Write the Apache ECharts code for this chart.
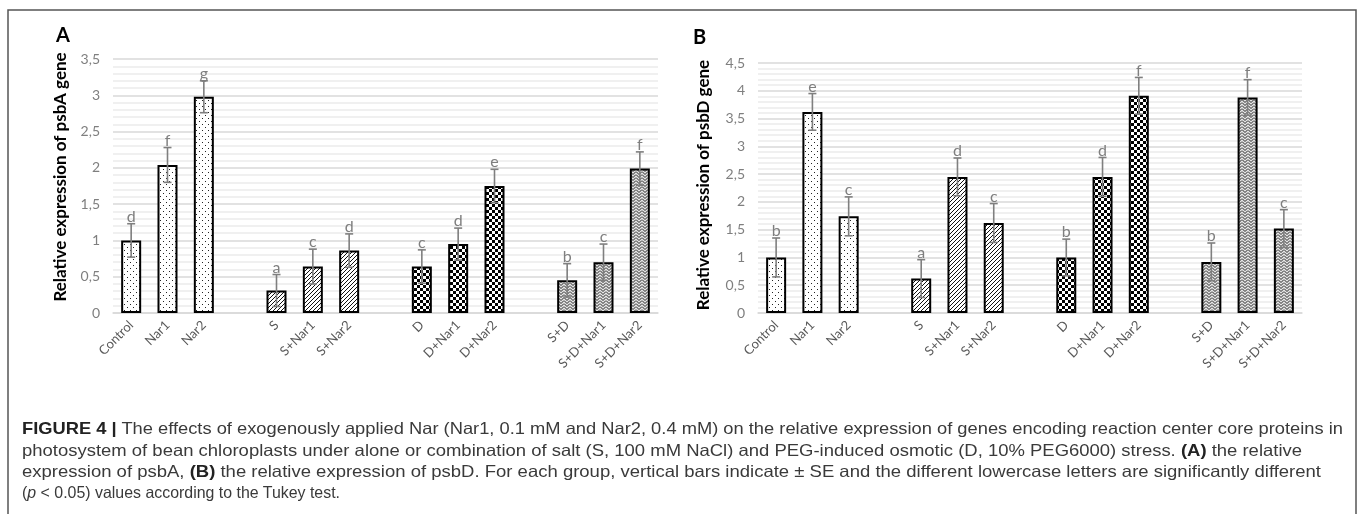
<!DOCTYPE html>
<html>
<head>
<meta charset="utf-8">
<script src="https://cdn.jsdelivr.net/npm/echarts@6/dist/echarts.min.js"></script>
<style>
  html, body { margin:0; padding:0; background:#fff; }
  #chart { position:absolute; left:0; top:0; width:1360px; height:514px; }
  .cap { position:absolute; left:22px; white-space:nowrap; font-family:"Liberation Sans",Arial,sans-serif; font-size:16.5px; color:#3a3a3a; transform-origin:0 50%; line-height:20px; }
  .cap b { font-weight:bold; color:#222; }
</style>
</head>
<body>
<div id="chart"></div>
<div class="cap" data-w="1321" style="top:418px"><b>FIGURE 4 |</b> The effects of exogenously applied Nar (Nar1, 0.1 mM and Nar2, 0.4 mM) on the relative expression of genes encoding reaction center core proteins in</div>
<div class="cap" data-w="1280" style="top:440px">photosystem of bean chloroplasts under alone or combination of salt (S, 100 mM NaCl) and PEG-induced osmotic (D, 10% PEG6000) stress. <b>(A)</b> the relative</div>
<div class="cap" data-w="1299" style="top:461px">expression of psbA, <b>(B)</b> the relative expression of psbD. For each group, vertical bars indicate ± SE and the different lowercase letters are significantly different</div>
<div class="cap" data-w="318" style="top:482px">(<i>p</i> &lt; 0.05) values according to the Tukey test.</div>
<script>
// ---- data ----
const categories = ["Control","Nar1","Nar2","","S","S+Nar1","S+Nar2","","D","D+Nar1","D+Nar2","","S+D","S+D+Nar1","S+D+Nar2"];
const psbA      = [1.00, 2.04, 2.98, null, 0.31, 0.64, 0.86, null, 0.64, 0.95, 1.75, null, 0.45, 0.70, 1.99];
const psbA_se   = [0.23, 0.24, 0.22, null, 0.22, 0.24, 0.23, null, 0.23, 0.22, 0.23, null, 0.23, 0.25, 0.23];
const psbA_lett = ["d","f","g","","a","c","d","","c","d","e","","b","c","f"];
const psbD      = [1.00, 3.62, 1.74, null, 0.62, 2.45, 1.62, null, 1.00, 2.45, 3.91, null, 0.92, 3.88, 1.52];
const psbD_se   = [0.35, 0.33, 0.35, null, 0.34, 0.34, 0.35, null, 0.33, 0.35, 0.33, null, 0.34, 0.32, 0.34];
const psbD_lett = ["b","e","c","","a","d","c","","b","d","f","","b","f","c"];
const yTicksA = {min:0, max:3.5, interval:0.5};
const yTicksB = {min:0, max:4.5, interval:0.5};

// ---- patterns ----
function tile(w,h,draw){ const c=document.createElement('canvas'); c.width=w; c.height=h; const g=c.getContext('2d'); g.fillStyle='#fff'; g.fillRect(0,0,w,h); draw(g); return {image:c, repeat:'repeat'}; }
const patDots = tile(6,6,g=>{ g.fillStyle='#222'; g.fillRect(1,1,1,1); g.fillRect(4,4,1,1); });
const patHatch = tile(4,4,g=>{ g.strokeStyle='#111'; g.lineWidth=1; g.beginPath(); g.moveTo(-1,5); g.lineTo(5,-1); g.moveTo(-1,1); g.lineTo(1,-1); g.moveTo(3,5); g.lineTo(5,3); g.stroke(); });
const patCheck = tile(6,6,g=>{ g.fillStyle='#000'; g.fillRect(0,0,3,3); g.fillRect(3,3,3,3); });
const patWeave = tile(6,6,g=>{ g.fillStyle='#e4e4e4'; g.fillRect(0,0,6,6); g.strokeStyle='#222'; g.lineWidth=1; g.beginPath(); g.moveTo(0,0.5); g.lineTo(3,3.5); g.lineTo(6,0.5); g.moveTo(0,3.5); g.lineTo(3,6.5); g.lineTo(6,3.5); g.moveTo(0,-2.5); g.lineTo(3,0.5); g.lineTo(6,-2.5); g.stroke(); });
const patterns = [patDots, patHatch, patCheck, patWeave];

const fontFam = 'Lato, "Liberation Sans", sans-serif';
function barData(vals){ return vals.map((v,i)=> v==null ? '-' : {value:v, itemStyle:{color:patterns[Math.floor(i/4)]}}); }
function errData(vals, se){ const out=[]; vals.forEach((v,i)=>{ if(v!=null) out.push([i, v, se[i]]); }); return out; }
function errRender(letters){
  return function(params, api){
    const i=api.value(0), v=api.value(1), e=api.value(2);
    const top=api.coord([i, v+e]), bot=api.coord([i, v-e]);
    const x=top[0], cw=4;
    const st={stroke:'#7f7f7f', lineWidth:1.6};
    return {type:'group', children:[
      {type:'line', shape:{x1:x,y1:top[1],x2:x,y2:bot[1]}, style:st},
      {type:'line', shape:{x1:x-cw,y1:top[1],x2:x+cw,y2:top[1]}, style:st},
      {type:'line', shape:{x1:x-cw,y1:bot[1],x2:x+cw,y2:bot[1]}, style:st},
      {type:'text', style:{text:letters[i], x:x, y:top[1]+1, align:'center', verticalAlign:'bottom', fill:'#7f7f7f', font:'16px '+fontFam}}
    ]};
  };
}
function yAxis(gi, t, name){
  return {type:'value', gridIndex:gi, min:t.min, max:t.max, interval:t.interval,
    name:name, nameLocation:'middle', nameGap: gi===0?44:46, nameRotate:90,
    nameTextStyle:{fontFamily:fontFam, fontWeight:'bold', fontSize:17, color:'#000', padding:[0,0,0,gi===0?18:6]},
    axisLine:{show:false}, axisTick:{show:false},
    axisLabel:{color:'#7f7f7f', fontFamily:fontFam, fontSize:14, margin:13, formatter:v=>String(v).replace('.',',')},
    splitLine:{lineStyle:{color:'#d9d9d9', width:1.5}},
    minorTick:{show:false, splitNumber:5},
    minorSplitLine:{show:true, lineStyle:{color:'#ececec', width:1.5}}};
}
function xAxis(gi){
  return {type:'category', gridIndex:gi, data:categories,
    axisTick:{show:false}, axisLine:{lineStyle:{color:'#d9d9d9', width:1.5}},
    axisLabel:{interval:0, rotate:45, color:'#595959', fontFamily:fontFam, fontSize:13, margin:10}};
}

const chart = echarts.init(document.getElementById('chart'), null, {renderer:'canvas'});
chart.setOption({
  animation:false,
  grid:[{left:113, right:702, top:59, bottom:201}, {left:758, right:58, top:63, bottom:201}],
  xAxis:[xAxis(0), xAxis(1)],
  yAxis:[yAxis(0, yTicksA, 'Relative expression of psbA gene'), yAxis(1, yTicksB, 'Relative expression of psbD gene')],
  graphic:[
    {type:'polyline', shape:{points:[[8,514],[8,10],[1356,10],[1356,514]]}, style:{stroke:'#555', lineWidth:1.5, fill:null}},
    {type:'text', left:56, top:26, style:{text:'A', font:'bold 20px '+fontFam, fill:'#000'}},
    {type:'text', left:693, top:28, style:{text:'B', font:'bold 20px '+fontFam, fill:'#000'}}
  ],
  series:[
    {type:'bar', xAxisIndex:0, yAxisIndex:0, barWidth:20, data:barData(psbA), itemStyle:{borderColor:'#000', borderWidth:2}},
    {type:'custom', xAxisIndex:0, yAxisIndex:0, data:errData(psbA, psbA_se), renderItem:errRender(psbA_lett), z:5},
    {type:'bar', xAxisIndex:1, yAxisIndex:1, barWidth:20, data:barData(psbD), itemStyle:{borderColor:'#000', borderWidth:2}},
    {type:'custom', xAxisIndex:1, yAxisIndex:1, data:errData(psbD, psbD_se), renderItem:errRender(psbD_lett), z:5}
  ]
});

// fit each caption line to its width in the reference
document.querySelectorAll('.cap').forEach(el=>{
  const w = el.getBoundingClientRect().width;
  el.style.transform = 'scaleX(' + (+el.dataset.w / w) + ')';
});
</script>
</body>
</html>
